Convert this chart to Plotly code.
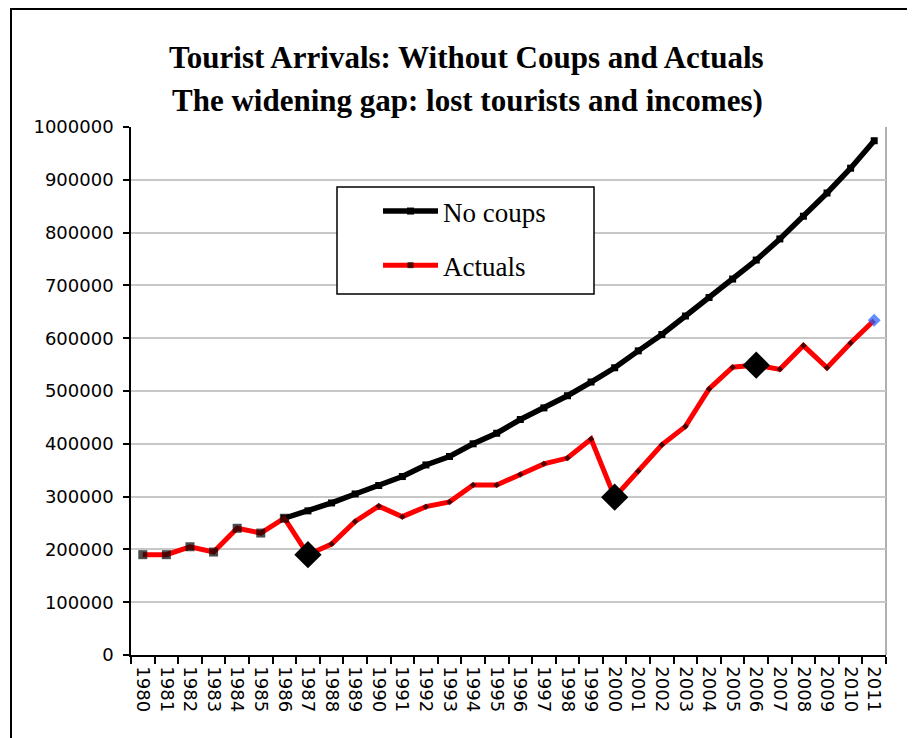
import plotly.graph_objects as go

years = [str(y) for y in range(1980, 2012)]

actuals = [190000, 190000, 205000, 195000, 240000, 231000, 259000, 190000,
           210000, 253000, 282000, 262000, 281000, 290000, 322000, 322000,
           342000, 362000, 373000, 409000, 299000, 348000, 398000, 433000,
           504000, 545000, 549000, 541000, 586000, 544000, 591000, 634000]

no_coups_years = [str(y) for y in range(1986, 2012)]
no_coups = [259000, 273000, 288000, 305000, 321000, 338000, 360000, 376000,
            400000, 420000, 446000, 468000, 491000, 517000, 544000, 576000,
            607000, 642000, 677000, 712000, 748000, 788000, 831000, 875000,
            922000, 974000]

coup_years = ["1987", "2000", "2006"]
coup_values = [190000, 299000, 549000]

title1 = "Tourist Arrivals: Without Coups and Actuals"
title2 = "The widening gap: lost tourists and incomes)"

# marker styling for Actuals
n = len(actuals)
act_sym = ["square" if i < 7 else "diamond" for i in range(n)]
act_size = [9 if i < 7 else 5 for i in range(n)]
act_col = ["black"] * n
act_sym[-1] = "diamond"
act_size[-1] = 10
act_col[-1] = "#1f5fff"

fig = go.Figure()
fig.add_trace(go.Scatter(
    x=no_coups_years, y=no_coups, name="No coups", mode="lines+markers",
    line=dict(color="black", width=5.5),
    marker=dict(symbol="square", size=7, color="black", line=dict(width=0)),
    legendgroup="a",
))
fig.add_trace(go.Scatter(
    x=years, y=actuals, name="Actuals", mode="lines+markers",
    line=dict(color="#ff0000", width=5),
    marker=dict(symbol=act_sym, size=act_size, color=act_col,
                line=dict(width=0)),
    legendgroup="b",
))
fig.add_trace(go.Scatter(
    x=coup_years, y=coup_values, mode="markers", showlegend=False,
    marker=dict(symbol="diamond", size=21, color="black", line=dict(width=0)),
))

# page body has an 8px margin; screen-space plot area is x 131..886, y 127..655
OFF = 8
SL, SR, ST, SB = 131, 886, 127, 655
W, H = 907, 730
L, T = SL - OFF, ST - OFF
R, B = W + OFF - SR, H + OFF - SB
pw, ph = SR - SL, SB - ST

def px(x):
    return (x - SL) / pw

def py(y):
    return (SB - y) / ph

fig.update_layout(
    width=W, height=H,
    margin=dict(l=L, r=R, t=T, b=B),
    paper_bgcolor="white", plot_bgcolor="white",
    showlegend=True,
    legend=dict(
        x=px(378), y=py(187), xanchor="left", yanchor="top",
        font=dict(family="Liberation Serif", size=27, color="black"),
        bgcolor="rgba(0,0,0,0)", borderwidth=0,
        traceorder="grouped", tracegroupgap=16, itemwidth=55,
    ),
    xaxis=dict(
        type="category", categoryorder="array", categoryarray=years,
        range=[-0.5, len(years) - 0.5], tickmode="linear", tick0=0, dtick=1,
        tickson="boundaries", ticks="outside", ticklen=7, tickwidth=1.5,
        tickcolor="black", showline=True, linecolor="black", linewidth=1.5,
        showgrid=False, tickangle=90, ticklabelstandoff=6,
        tickfont=dict(family="DejaVu Sans", size=18, color="black"),
    ),
    yaxis=dict(
        range=[0, 1000000], dtick=100000, tickformat="d",
        ticks="outside", ticklen=6, tickwidth=1.5, tickcolor="black",
        showline=True, linecolor="black", linewidth=1.5,
        showgrid=True, gridcolor="#c8c8c8", gridwidth=2, zeroline=False,
        ticklabelstandoff=6,
        tickfont=dict(family="DejaVu Sans", size=18, color="black"),
    ),
    annotations=[
        dict(text="<b>" + title1 + "</b>", xref="paper", yref="paper",
             x=px(466), y=py(57), xanchor="center", yanchor="middle",
             showarrow=False,
             font=dict(family="Liberation Serif", size=31, color="black")),
        dict(text="<b>" + title2 + "</b>", xref="paper", yref="paper",
             x=px(467), y=py(101), xanchor="center", yanchor="middle",
             showarrow=False,
             font=dict(family="Liberation Serif", size=31, color="black")),
    ],
    shapes=[
        # outer chart frame
        dict(type="rect", xref="paper", yref="paper",
             x0=px(11), x1=px(950), y0=py(770), y1=py(9),
             line=dict(color="black", width=2), fillcolor="rgba(0,0,0,0)",
             layer="above"),
        # plot area right border
        dict(type="line", xref="paper", yref="paper",
             x0=1, x1=1, y0=0, y1=1,
             line=dict(color="#b0b0b0", width=2), layer="below"),
        # legend frame
        dict(type="rect", xref="paper", yref="paper",
             x0=px(337), x1=px(594), y0=py(294), y1=py(187),
             line=dict(color="black", width=1.5), fillcolor="white",
             layer="above"),
    ],
)

fig.write_html("out.html")
